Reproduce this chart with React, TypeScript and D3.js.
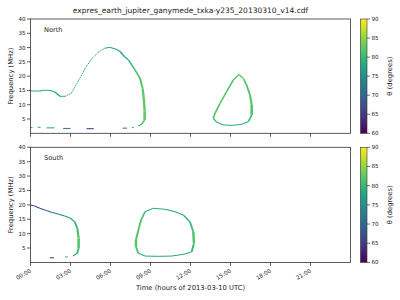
import * as d3 from "d3";
import { FC, useEffect } from "react";

// [hour, frequency MHz, theta deg]
type Pt = [number, number, number];

const TITLE = "expres_earth_jupiter_ganymede_txka-y235_20130310_v14.cdf";
const HOUR_TICKS = [0, 3, 6, 9, 12, 15, 18, 21];
const FREQ_TICKS = [5, 10, 15, 20, 25, 30, 35, 40];
const THETA_TICKS = [60, 65, 70, 75, 80, 85, 90];

const northMain: Pt[] = [
  [0.0, 14.8, 77], [0.8, 14.8, 77], [0.85, 15.05, 77], [1.4, 15.05, 77],
  [1.8, 14.5, 77], [2.2, 12.95, 77], [2.6, 12.95, 77], [3.06, 14.0, 77],
  [3.56, 18.1, 77.5], [4.06, 22.4, 77.5], [4.56, 25.9, 77], [5.06, 28.3, 76.5],
  [5.56, 29.75, 76.5], [5.94, 30.1, 76.5], [6.44, 29.4, 77], [6.71, 28.6, 77.5],
  [7.06, 26.8, 78], [7.34, 25.7, 79], [7.84, 22.2, 80.5], [8.21, 19.25, 81.5],
  [8.41, 15.75, 82], [8.51, 11.65, 82.5], [8.56, 7.55, 82.5], [8.56, 4.65, 82.5],
  [8.34, 3.25, 80], [8.09, 2.55, 78],
];
const northDashes: Pt[][] = [
  [[0.0, 2.0, 76.5], [0.15, 2.0, 76.5]],
  [[0.55, 2.1, 76.5], [0.75, 2.1, 76.5]],
  [[1.2, 1.9, 76.5], [1.8, 1.9, 76.5]],
  [[2.45, 1.7, 70], [3.0, 1.7, 70]],
  [[4.2, 1.6, 62], [4.75, 1.6, 62]],
  [[6.9, 1.8, 70], [7.25, 1.8, 70]],
  [[7.6, 2.0, 76.5], [7.75, 2.0, 76.5]],
];
const northLoop: Pt[] = [
  [15.62, 20.6, 82], [15.21, 18.65, 82], [14.71, 14.55, 82], [14.21, 10.5, 82],
  [13.84, 7.0, 82], [13.71, 5.25, 82], [13.97, 3.85, 80], [14.46, 2.9, 78],
  [15.21, 2.8, 77], [15.84, 3.15, 77], [16.34, 4.05, 79], [16.59, 6.4, 82],
  [16.59, 9.9, 82], [16.46, 13.4, 82], [16.21, 16.9, 82], [15.96, 19.25, 82],
  [15.62, 20.6, 82],
];

const southMain: Pt[] = [
  [0.0, 19.95, 66], [0.31, 19.6, 66], [0.69, 18.8, 67], [1.19, 18.0, 69],
  [1.56, 17.4, 71], [2.06, 16.8, 73], [2.56, 16.1, 75], [2.94, 15.55, 77],
  [3.31, 14.15, 79], [3.51, 11.85, 81], [3.61, 8.4, 82], [3.61, 4.9, 82],
  [3.51, 3.15, 79], [3.19, 2.2, 77],
];
const southDashes: Pt[][] = [
  [[2.6, 1.9, 76.5], [2.8, 1.9, 76.5]],
  [[1.44, 1.6, 63], [1.76, 1.6, 63]],
];
const southLoop: Pt[] = [
  [9.21, 18.8, 78], [8.59, 17.6, 80], [8.29, 14.7, 82], [8.09, 11.25, 82],
  [7.91, 7.8, 82], [7.91, 5.45, 82], [8.09, 3.15, 80], [8.59, 2.2, 77],
  [9.59, 2.1, 76.5], [10.59, 2.2, 76.5], [11.59, 2.9, 77], [12.09, 3.7, 79],
  [12.26, 6.6, 81.5], [12.21, 10.65, 81.5], [11.96, 14.15, 80], [11.46, 16.5, 78],
  [10.84, 17.6, 77], [10.09, 18.45, 77], [9.21, 18.8, 78],
];

const FONT = "DejaVu Sans, sans-serif";
const X0 = 30.5;
const X1 = 350.5;
const CB_X = 360.5;
const CB_W = 6.5;

const x = d3.scaleLinear().domain([0, 24]).range([X0, X1]);
const color = d3.scaleSequential(d3.interpolateViridis).domain([60, 90]);

const Panel: FC<{
  top: number;
  bottom: number;
  label: string;
  series: Pt[][];
  showX: boolean;
}> = ({ top, bottom, label, series, showX }) => {
  const y = d3.scaleLinear().domain([0, 40]).range([bottom, top]);
  const cb = d3.scaleLinear().domain([60, 90]).range([bottom, top]);
  const line = d3
    .line<Pt>()
    .x((d) => x(d[0]))
    .y((d) => y(d[1]));
  const gid = `grad${Math.round(top)}`;

  const segs: JSX.Element[] = [];
  series.forEach((s, si) => {
    for (let i = 0; i < s.length - 1; i++) {
      const a = s[i];
      const b = s[i + 1];
      const dx = Math.abs(x(b[0]) - x(a[0]));
      const dy = Math.abs(y(b[1]) - y(a[1]));
      const steep = dy / (dx + dy + 0.001);
      // the rising branch of the main arc is sampled sparsely -> dotted look
      const dotted = si === 0 && b[1] > a[1] + 1;
      segs.push(
        <path
          key={`${si}-${i}`}
          d={line([a, b]) || ""}
          fill="none"
          stroke={color((a[2] + b[2]) / 2)}
          strokeWidth={dotted ? 1 : 0.95 + 1.6 * steep * steep}
          strokeDasharray={dotted ? "1.3 0.8" : undefined}
          strokeLinecap="butt"
        />
      );
    }
  });

  return (
    <g>
      <defs>
        <linearGradient id={gid} x1="0" y1="1" x2="0" y2="0">
          {d3.range(0, 1.001, 0.1).map((t) => (
            <stop key={t} offset={t} stopColor={d3.interpolateViridis(t)} />
          ))}
        </linearGradient>
      </defs>
      {segs}
      <rect
        x={X0}
        y={top}
        width={X1 - X0}
        height={bottom - top}
        fill="none"
        stroke="#333"
        strokeWidth={0.8}
      />
      {FREQ_TICKS.map((t) => (
        <g key={t}>
          <line x1={X0 - 3.5} x2={X0} y1={y(t)} y2={y(t)} stroke="#333" strokeWidth={0.8} />
          <text x={X0 - 5} y={y(t) + 2} fontSize={5.6} textAnchor="end" fill="#222">
            {t}
          </text>
        </g>
      ))}
      {HOUR_TICKS.map((h) => (
        <g key={h}>
          <line x1={x(h)} x2={x(h)} y1={bottom} y2={bottom + 3.5} stroke="#333" strokeWidth={0.8} />
          {showX && (
            <text
              transform={`translate(${x(h) + 1},${bottom + 9.5}) rotate(-30)`}
              fontSize={5.6}
              textAnchor="end"
              fill="#222"
            >
              {`${String(h).padStart(2, "0")}:00`}
            </text>
          )}
        </g>
      ))}
      <text x={44} y={top + 12.5} fontSize={6.6} fill="#222">
        {label}
      </text>
      <text
        transform={`translate(12.5,${(top + bottom) / 2}) rotate(-90)`}
        fontSize={6.8}
        textAnchor="middle"
        fill="#222"
      >
        Frequency (MHz)
      </text>
      <rect x={CB_X} y={top} width={CB_W} height={bottom - top} fill={`url(#${gid})`} stroke="#333" strokeWidth={0.6} />
      {THETA_TICKS.map((t) => (
        <g key={t}>
          <line x1={CB_X + CB_W} x2={CB_X + CB_W + 3} y1={cb(t)} y2={cb(t)} stroke="#333" strokeWidth={0.7} />
          <text x={CB_X + CB_W + 4.5} y={cb(t) + 2} fontSize={5.6} fill="#222">
            {t}
          </text>
        </g>
      ))}
      <text
        transform={`translate(392,${(top + bottom) / 2}) rotate(-90)`}
        fontSize={6.8}
        textAnchor="middle"
        fill="#222"
      >
        θ (degrees)
      </text>
    </g>
  );
};

const App: FC = () => {
  useEffect(() => {
    document.body.style.margin = "0";
  }, []);
  return (
    <svg width={400} height={300} style={{ display: "block", background: "#fff" }} fontFamily={FONT}>
      <text x={190.5} y={12.5} fontSize={7.5} textAnchor="middle" fill="#222">
        {TITLE}
      </text>
      <Panel
        top={19}
        bottom={133.3}
        label="North"
        series={[northMain, ...northDashes, northLoop]}
        showX={false}
      />
      <Panel
        top={147.3}
        bottom={262.4}
        label="South"
        series={[southMain, ...southDashes, southLoop]}
        showX={true}
      />
      <text x={190.5} y={289.5} fontSize={6.8} textAnchor="middle" fill="#222">
        Time (hours of 2013-03-10 UTC)
      </text>
    </svg>
  );
};

export default App;
